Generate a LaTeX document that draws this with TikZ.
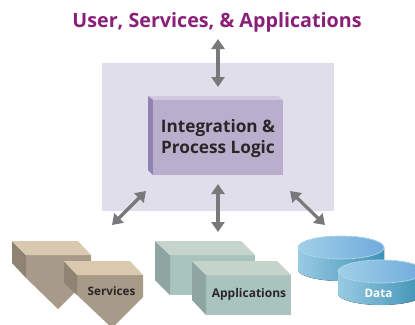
\documentclass[tikz,border=0pt]{standalone}
\usepackage{fontspec}
\setmainfont{Open Sans}
\usetikzlibrary{arrows.meta}
\definecolor{titlepurple}{HTML}{8A1F78}
\definecolor{panel}{HTML}{E1DEEB}
\definecolor{boxfront}{HTML}{B9AFCC}
\definecolor{boxleft}{HTML}{8F83B3}
\definecolor{boxtop}{HTML}{CFC8DE}
\definecolor{arrowgray}{HTML}{77797B}
\definecolor{svcfront}{HTML}{A89A88}
\definecolor{svcleft}{HTML}{8F8372}
\definecolor{svctop}{HTML}{D8C9AF}
\definecolor{appfront}{HTML}{A9C3BF}
\definecolor{appleft}{HTML}{8FA5A1}
\definecolor{apptop}{HTML}{C6D5CB}
\definecolor{inktext}{HTML}{2A2628}
\definecolor{sideL}{HTML}{98CAE3}
\definecolor{sideM}{HTML}{64A6CA}
\definecolor{sideR}{HTML}{3F92B5}
\definecolor{capL}{HTML}{A0D0E8}
\definecolor{capR}{HTML}{70ABDC}
\definecolor{capEdge}{HTML}{B4DAEC}
\tikzset{
  link/.style={draw=arrowgray,line width=3.2pt,{Triangle[width=13pt,length=10pt]}-{Triangle[width=13pt,length=10pt]}},
  label/.style={font=\bfseries,inner sep=0pt,text=inktext,align=center}
}
\newcommand{\barrel}[3]{% cx, cap centre y, rx
  \fill[left color=sideL,middle color=sideM,right color=sideR]
    (#1-#3,#2) -- (#1-#3,#2+22) arc[start angle=180,delta angle=-180,x radius=#3,y radius=11.5] -- (#1+#3,#2) -- cycle;
  \fill[left color=capL,right color=capR]
    (#1,#2) ellipse[x radius=#3,y radius=11.5];
  \draw[capEdge,line width=0.7pt] (#1,#2) ellipse[x radius=#3,y radius=11.5];
}
\begin{document}
\begin{tikzpicture}[x=1pt,y=-1pt]
\useasboundingbox (0,0) rectangle (415,324);
\clip (0,0) rectangle (415,324);
% panel
\node[fill=panel,minimum width=232pt,minimum height=148pt,inner sep=0pt,anchor=north west] (panel) at (102,63) {};
% integration box
\fill[boxtop] (148,96) -- (278,96) -- (283,100) -- (153,100) -- cycle;
\fill[boxleft] (148,96) -- (153,100) -- (153,175) -- (148,170) -- cycle;
\node[fill=boxfront,minimum width=130pt,minimum height=75pt,inner sep=0pt,anchor=north west] (logic) at (153,100) {};
\node[label,font=\bfseries\fontsize{17.2}{21}\selectfont] (logictext) at (218,138.5) {Integration \&\\Process Logic};
% title
\node[font=\bfseries\fontsize{19.7}{22}\selectfont,text=titlepurple,inner sep=0pt] (title) at (217,22.5) {User, Services, \& Applications};
% services back
\fill[svcfront] (26,255) -- (91,255) -- (91,276) -- (58,309) -- (26,278) -- cycle;
\fill[svcleft] (12,241) -- (26,255) -- (26,278) -- (12,263) -- cycle;
\fill[svctop] (12,241) -- (78,241) -- (91,255) -- (26,255) -- cycle;
% services front
\fill[svcfront] (77,275) -- (143,275) -- (143,297) -- (112,328) -- (77,295) -- cycle;
\fill[svcleft] (64,262) -- (77,275) -- (77,295) -- (64,283) -- cycle;
\fill[svctop] (64,261) -- (130,261) -- (143,275) -- (77,275) -- cycle;
\node[label,font=\bfseries\fontsize{11.7}{13}\selectfont] (services) at (111.5,291.5) {Services};
% applications back
\fill[appfront] (170,255) -- (255,255) -- (255,295) -- (170,295) -- cycle;
\fill[appleft] (155,241) -- (170,255) -- (170,295) -- (155,280) -- cycle;
\fill[apptop] (155,241) -- (241,241) -- (255,255) -- (170,255) -- cycle;
% applications front
\fill[appfront] (206,275) -- (291,275) -- (291,315) -- (206,315) -- cycle;
\fill[appleft] (192,261) -- (206,275) -- (206,315) -- (192,300) -- cycle;
\fill[apptop] (192,261) -- (277,261) -- (291,275) -- (206,275) -- cycle;
\node[label,font=\bfseries\fontsize{12}{13}\selectfont] (applications) at (249,294.5) {Applications};
% data
\barrel{341}{247.5}{43}
\barrel{381}{271.5}{43}
\node[label,text=white,font=\bfseries\fontsize{11.7}{13}\selectfont] (data) at (378.5,293.5) {Data};
% connectors
\coordinate (toptip) at (218,39);
\coordinate (topend) at (218,87);
\coordinate (midtip) at (218,184);
\coordinate (midend) at (218,232);
\coordinate (ltip) at (146,191);
\coordinate (lend) at (112,225);
\coordinate (rtip) at (290,191);
\coordinate (rend) at (325,225);
\draw[link] (toptip) -- (topend);
\draw[link] (midtip) -- (midend);
\draw[link] (ltip) -- (lend);
\draw[link] (rtip) -- (rend);
\end{tikzpicture}
\end{document}
